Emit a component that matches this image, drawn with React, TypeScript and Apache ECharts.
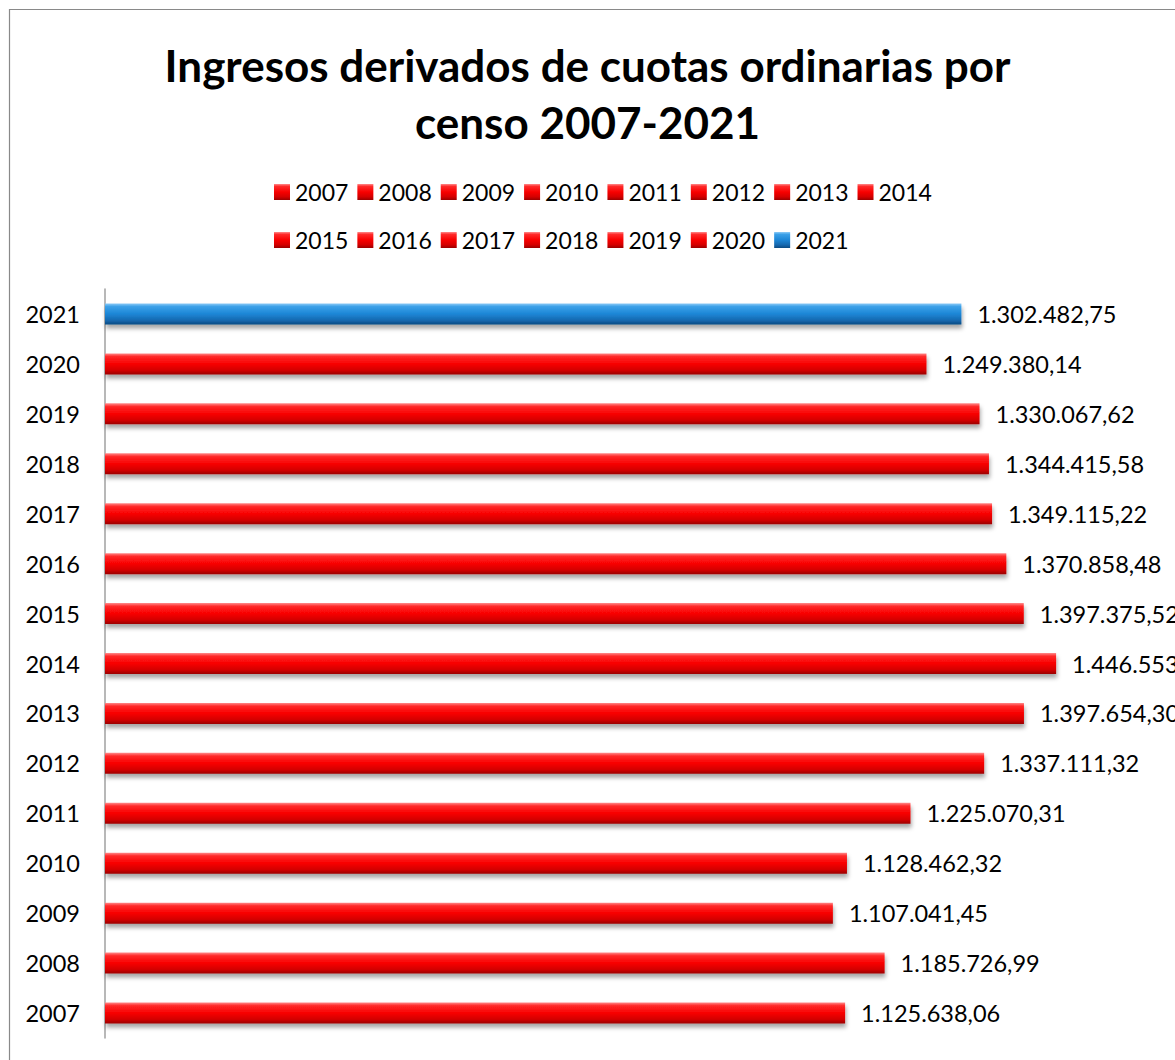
import React, { useEffect, useRef } from "react";
import * as echarts from "echarts";

const titleText = "Ingresos derivados de cuotas ordinarias por\ncenso 2007-2021";
const years = ["2007", "2008", "2009", "2010", "2011", "2012", "2013", "2014", "2015", "2016", "2017", "2018", "2019", "2020", "2021"];
const values = [
  1125638.06, 1185726.99, 1107041.45, 1128462.32, 1225070.31, 1337111.32, 1397654.3, 1446553.18,
  1397375.52, 1370858.48, 1349115.22, 1344415.58, 1330067.62, 1249380.14, 1302482.75,
];
const legendRow1 = years.slice(0, 8);
const legendRow2 = years.slice(8);
const highlightYear = "2021";

const FONT = "Lato";

function fmt(v: number): string {
  const [i, d] = v.toFixed(2).split(".");
  return i.replace(/\B(?=(\d{3})+(?!\d))/g, ".") + "," + d;
}

const redGrad = () =>
  new echarts.graphic.LinearGradient(0, 0, 0, 1, [
    { offset: 0, color: "#ff8a8a" },
    { offset: 0.15, color: "#ff2a2a" },
    { offset: 0.5, color: "#f80000" },
    { offset: 0.8, color: "#d40000" },
    { offset: 1, color: "#9a0000" },
  ]);
const blueGrad = () =>
  new echarts.graphic.LinearGradient(0, 0, 0, 1, [
    { offset: 0, color: "#8ccaf6" },
    { offset: 0.15, color: "#3ba0e8" },
    { offset: 0.5, color: "#1d86d6" },
    { offset: 0.8, color: "#1669b0" },
    { offset: 1, color: "#0c4a82" },
  ]);

export default function App() {
  const ref = useRef<HTMLDivElement>(null);
  useEffect(() => {
    if (!ref.current) return;
    const chart = echarts.init(ref.current, null, { renderer: "svg" });
    const series = years.map((y, i) => ({
      name: y,
      type: "bar",
      barWidth: 21,
      barGap: "-100%",
      data: years.map((_, j) => (j === i ? values[i] : null)),
      itemStyle: {
        color: y === highlightYear ? blueGrad() : redGrad(),
        shadowColor: "rgba(0,0,0,0.35)",
        shadowBlur: 4,
        shadowOffsetY: 4,
        shadowOffsetX: 1,
      },
      label: {
        show: true,
        position: "right",
        distance: 16,
        fontFamily: FONT,
        fontSize: 23.5,
        color: "#000",
        formatter: (p: any) => fmt(p.value),
      },
    }));
    const legendBase = {
      left: 274,
      orient: "horizontal",
      icon: "rect",
      padding: 0,
      itemWidth: 16,
      itemHeight: 16,
      itemGap: 9,
      selectedMode: false,
      textStyle: { fontFamily: FONT, fontSize: 23, color: "#000", lineHeight: 28 },
    };
    chart.setOption({
      animation: false,
      backgroundColor: "#fff",
      title: {
        text: titleText,
        left: "center",
        top: 31,
        textStyle: { fontFamily: FONT, fontWeight: "bold", fontSize: 44, lineHeight: 57, color: "#000" },
      },
      legend: [
        { ...legendBase, top: 178, data: legendRow1 },
        { ...legendBase, top: 226, data: legendRow2 },
      ],
      grid: { left: 105, top: 289, width: 1052, height: 749, containLabel: false },
      xAxis: {
        type: "value",
        min: 0,
        max: 1600000,
        show: false,
        splitLine: { show: false },
      },
      yAxis: {
        type: "category",
        data: years,
        axisLine: { show: true, lineStyle: { color: "#a0a0a0", width: 1.5 } },
        axisTick: { show: false },
        axisLabel: { margin: 25, fontFamily: FONT, fontSize: 23.5, color: "#000" },
      },
      graphic: [
        {
          type: "rect",
          shape: { x: 9.5, y: 9.5, width: 1400, height: 1400 },
          style: { fill: "none", stroke: "#898989", lineWidth: 1.2 },
          silent: true,
          z: 100,
        },
      ],
      series,
    });
    return () => chart.dispose();
  }, []);
  return (
    <div style={{ position: "fixed", left: 0, top: 0, width: 1175, height: 1060, overflow: "hidden", background: "#fff" }}>
      <div ref={ref} style={{ width: 1175, height: 1060 }} />
    </div>
  );
}
